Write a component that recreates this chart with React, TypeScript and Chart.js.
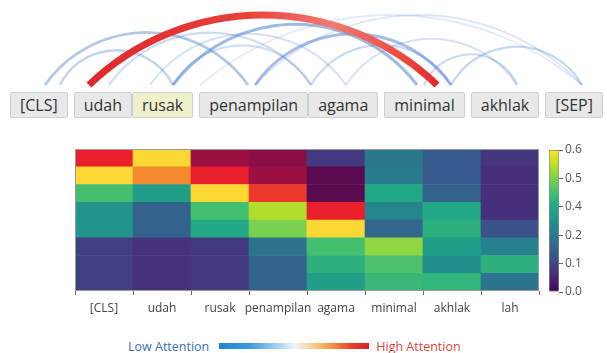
import React, { useEffect, useRef } from "react";
import { Chart, registerables } from "chart.js";
Chart.register(...registerables);

// ---------- DATA ----------
const tokens = ["[CLS]", "udah", "rusak", "penampilan", "agama", "minimal", "akhlak", "[SEP]"];
const tokenGroupStarts = [true, true, false, true, false, true, true, true];
const highlightedToken = "rusak";

const columns = ["[CLS]", "udah", "rusak", "penampilan", "agama", "minimal", "akhlak", "lah"];

// viridis-scaled attention (0 - 0.6); cells listed in focus* use the focus palette
const row0 = [0.5, 0.6, 0.5, 0.5, 0.1, 0.24, 0.17, 0.09];
const row1 = [0.6, 0.55, 0.5, 0.5, 0.0, 0.25, 0.17, 0.08];
const row2 = [0.42, 0.33, 0.6, 0.5, 0.0, 0.36, 0.19, 0.08];
const row3 = [0.31, 0.19, 0.42, 0.53, 0.5, 0.27, 0.36, 0.08];
const row4 = [0.31, 0.19, 0.36, 0.48, 0.6, 0.2, 0.38, 0.15];
const row5 = [0.11, 0.085, 0.1, 0.23, 0.42, 0.5, 0.33, 0.26];
const row6 = [0.11, 0.085, 0.1, 0.19, 0.38, 0.43, 0.29, 0.38];
const row7 = [0.11, 0.085, 0.1, 0.19, 0.33, 0.4, 0.39, 0.23];

const focusRows = [0, 0, 0, 0, 1, 1, 1, 1, 1, 2, 2, 2, 3, 4];
const focusCols = [0, 1, 2, 3, 0, 1, 2, 3, 4, 2, 3, 4, 4, 4];
const focusValues = [0.55, 1.0, 0.25, 0.18, 1.0, 0.75, 0.55, 0.25, 0.0, 1.0, 0.6, 0.0, 0.55, 1.0];

const colorbarTicks = ["0.0", "0.1", "0.2", "0.4", "0.5", "0.6"];

// attention arcs along the token strip
const arcFrom = [200, 255, 346, 150, 109, 173, 311, 424, 451, 60, 45, 255, 173, 89];
const arcTo = [582, 582, 517, 346, 311, 311, 451, 517, 582, 173, 248, 451, 417, 437];
const arcWeight = [0.08, 0.12, 0.18, 0.18, 0.25, 0.22, 0.28, 0.28, 0.3, 0.35, 0.5, 0.62, 0.66, 1.0];

// ---------- helpers ----------
const VIRIDIS = ["#440154", "#482475", "#414487", "#355f8d", "#2a788e", "#21918c", "#22a884", "#44bf70", "#7ad151", "#bddf26", "#fde725"];
const FOCUS = [
  [0, "#5a0a4e"],
  [0.25, "#9c0f42"],
  [0.55, "#ea1f2b"],
  [0.75, "#f5892f"],
  [1, "#fdd835"],
] as [number, string][];

function hex(h: string) {
  return [parseInt(h.slice(1, 3), 16), parseInt(h.slice(3, 5), 16), parseInt(h.slice(5, 7), 16)];
}
function mix(a: string, b: string, t: number) {
  const A = hex(a), B = hex(b);
  return `rgb(${A.map((v, i) => Math.round(v + (B[i] - v) * t)).join(",")})`;
}
function viridis(t: number) {
  t = Math.max(0, Math.min(1, t));
  const p = t * (VIRIDIS.length - 1);
  const i = Math.min(Math.floor(p), VIRIDIS.length - 2);
  return mix(VIRIDIS[i], VIRIDIS[i + 1], p - i);
}
function focusColor(t: number) {
  for (let i = 0; i < FOCUS.length - 1; i++) {
    const [a, ca] = FOCUS[i];
    const [b, cb] = FOCUS[i + 1];
    if (t <= b) return mix(ca, cb, (t - a) / (b - a));
  }
  return FOCUS[FOCUS.length - 1][1];
}

const FONT = "'Open Sans', 'Noto Sans', sans-serif";

export default function App() {
  const arcRef = useRef<HTMLCanvasElement>(null);
  const heatRef = useRef<HTMLCanvasElement>(null);
  const cbRef = useRef<HTMLCanvasElement>(null);

  useEffect(() => {
    const charts: Chart[] = [];

    // ---- arcs ----
    const arcPlugin = {
      id: "arcs",
      afterDraw(chart: any) {
        const ctx = chart.ctx as CanvasRenderingContext2D;
        const xs = chart.scales.x, ys = chart.scales.y;
        const order = arcWeight.map((w, i) => i).sort((a, b) => arcWeight[a] - arcWeight[b]);
        ctx.save();
        for (const i of order) {
          const w = arcWeight[i];
          const span = Math.abs(arcTo[i] - arcFrom[i]);
          const hVal = Math.min(0.2 * span + 12, 70);
          const x1 = xs.getPixelForValue(Math.min(arcFrom[i], arcTo[i]));
          const x2 = xs.getPixelForValue(Math.max(arcFrom[i], arcTo[i]));
          const y0 = ys.getPixelForValue(0);
          const yTop = ys.getPixelForValue(hVal);
          const c = x2 - x1;
          const s = y0 - yTop;
          const R = (c * c / 4 + s * s) / (2 * s);
          const cx = (x1 + x2) / 2;
          const cy = yTop + R;
          const a1 = Math.atan2(y0 - cy, x1 - cx);
          const a2 = Math.atan2(y0 - cy, x2 - cx);
          ctx.beginPath();
          ctx.arc(cx, cy, R, a1, a2, false);
          if (w >= 0.9) {
            const g = ctx.createLinearGradient(x1, 0, x2, 0);
            g.addColorStop(0, "#e0262a");
            g.addColorStop(0.45, "#e94038");
            g.addColorStop(0.7, "#f07a72");
            g.addColorStop(0.9, "#ec4a40");
            g.addColorStop(1, "#e32a2a");
            ctx.strokeStyle = g;
            ctx.lineWidth = 7;
          } else {
            ctx.strokeStyle = `rgba(86,132,210,${0.12 + 0.68 * w})`;
            ctx.lineWidth = 1.6 + 2.2 * w;
          }
          ctx.lineCap = "butt";
          ctx.stroke();
        }
        ctx.restore();
      },
    };
    if (arcRef.current) {
      charts.push(
        new Chart(arcRef.current, {
          type: "scatter",
          data: { datasets: [] },
          options: {
            animation: false,
            responsive: false,
            events: [],
            layout: { padding: 0 },
            plugins: { legend: { display: false }, tooltip: { enabled: false } },
            scales: {
              x: { type: "linear", min: 0, max: 607, display: false },
              y: { type: "linear", min: -5, max: 85, display: false },
            },
          },
          plugins: [arcPlugin],
        })
      );
    }

    // ---- heatmap ----
    const rows = [row0, row1, row2, row3, row4, row5, row6, row7];
    const cellColor = (ri: number, ci: number, v: number) => {
      for (let k = 0; k < focusRows.length; k++) {
        if (focusRows[k] === ri && focusCols[k] === ci) return focusColor(focusValues[k]);
      }
      return viridis(v / 0.6);
    };
    const datasets = rows
      .map((r, ri) => ({
        label: `row ${ri}`,
        data: r.map(() => 1),
        backgroundColor: r.map((v, ci) => cellColor(ri, ci, v)),
        borderWidth: 0,
        barPercentage: 1,
        categoryPercentage: 1,
        stack: "s",
      }))
      .reverse();
    const framePlugin = {
      id: "frame",
      afterDatasetsDraw(chart: any) {
        const { ctx, chartArea: a } = chart;
        ctx.save();
        ctx.strokeStyle = "#9a9a9a";
        ctx.lineWidth = 1;
        ctx.strokeRect(a.left + 0.5, a.top + 0.5, a.right - a.left - 1, a.bottom - a.top - 1);
        ctx.restore();
      },
    };
    if (heatRef.current) {
      charts.push(
        new Chart(heatRef.current, {
          type: "bar",
          data: { labels: columns, datasets },
          options: {
            animation: false,
            responsive: false,
            events: [],
            layout: { padding: { left: 75, right: 6, top: 9, bottom: 1 } },
            plugins: { legend: { display: false }, tooltip: { enabled: false } },
            scales: {
              x: {
                stacked: true,
                grid: { drawOnChartArea: false, drawTicks: true, tickLength: 4, color: "#666" },
                border: { display: false },
                ticks: { color: "#444", font: { family: FONT, size: 12 }, padding: 6, maxRotation: 0, autoSkip: false },
                afterFit: (s: any) => {
                  s.height = 28;
                },
              },
              y: { stacked: true, min: 0, max: 8, display: false },
            },
          },
          plugins: [framePlugin],
        } as any)
      );
    }

    // ---- colorbar ----
    if (cbRef.current) {
      charts.push(
        new Chart(cbRef.current, {
          type: "bar",
          data: {
            labels: ["scale"],
            datasets: [
              {
                data: [[0, colorbarTicks.length - 1]],
                backgroundColor: (ctx: any) => {
                  const area = ctx.chart.chartArea;
                  if (!area) return "#21918c";
                  const g = ctx.chart.ctx.createLinearGradient(0, area.bottom, 0, area.top);
                  VIRIDIS.forEach((c, i) => g.addColorStop(i / (VIRIDIS.length - 1), c));
                  return g;
                },
                borderColor: "#8a8a8a",
                borderWidth: 1,
                borderSkipped: false,
                barPercentage: 1,
                categoryPercentage: 1,
              },
            ],
          },
          options: {
            animation: false,
            responsive: false,
            events: [],
            layout: { padding: { left: 4, right: 0, top: 10, bottom: 13 } },
            plugins: { legend: { display: false }, tooltip: { enabled: false } },
            scales: {
              x: { display: false },
              y: {
                position: "right",
                min: 0,
                max: colorbarTicks.length - 1,
                grid: { drawOnChartArea: false, tickLength: 4, color: "#666" },
                border: { display: false },
                ticks: {
                  stepSize: 1,
                  padding: 2,
                  color: "#555",
                  font: { family: FONT, size: 12 },
                  callback: (v: any) => colorbarTicks[v as number],
                },
                afterFit: (s: any) => {
                  s.width = 48;
                },
              },
            },
          },
        } as any)
      );
    }

    return () => charts.forEach((c) => c.destroy());
  }, []);

  return (
    <div style={{ position: "absolute", left: 0, top: 0, width: 607, height: 353, background: "#fff", overflow: "hidden", fontFamily: FONT }}>
      <canvas ref={arcRef} width={607} height={90} style={{ position: "absolute", left: 0, top: 0, width: 607, height: 90 }} />
      <div style={{ position: "absolute", left: 10, top: 92, display: "flex", alignItems: "center" }}>
        {tokens.map((t, i) => (
          <div
            key={i}
            style={{
              marginLeft: i === 0 ? 0 : tokenGroupStarts[i] ? 6 : 0,
              height: 26,
              boxSizing: "border-box",
              padding: "0 9px",
              border: "1px solid #cfcfcf",
              borderRadius: 2,
              background: t === highlightedToken ? "#eef1cc" : "#e8e8e8",
              color: "#333",
              fontSize: 16,
              lineHeight: "24px",
              whiteSpace: "nowrap",
            }}
          >
            {t}
          </div>
        ))}
      </div>
      <canvas ref={heatRef} width={545} height={180} style={{ position: "absolute", left: 0, top: 140, width: 545, height: 180 }} />
      <canvas ref={cbRef} width={62} height={165} style={{ position: "absolute", left: 545, top: 140, width: 62, height: 165 }} />
      <div style={{ position: "absolute", left: 128, top: 337, height: 18, display: "flex", alignItems: "center", fontSize: 12.5 }}>
        <span style={{ color: "#3670b5" }}>Low Attention</span>
        <div
          style={{
            marginLeft: 10,
            width: 150,
            height: 6,
            background: "linear-gradient(to right, #1f86cf 0%, #3d9ad8 20%, #a9d3ee 40%, #eef4f6 50%, #f8cf96 62%, #f39444 75%, #e7402f 88%, #e02025 100%)",
          }}
        />
        <span style={{ color: "#e3403a", marginLeft: 7 }}>High Attention</span>
      </div>
    </div>
  );
}
